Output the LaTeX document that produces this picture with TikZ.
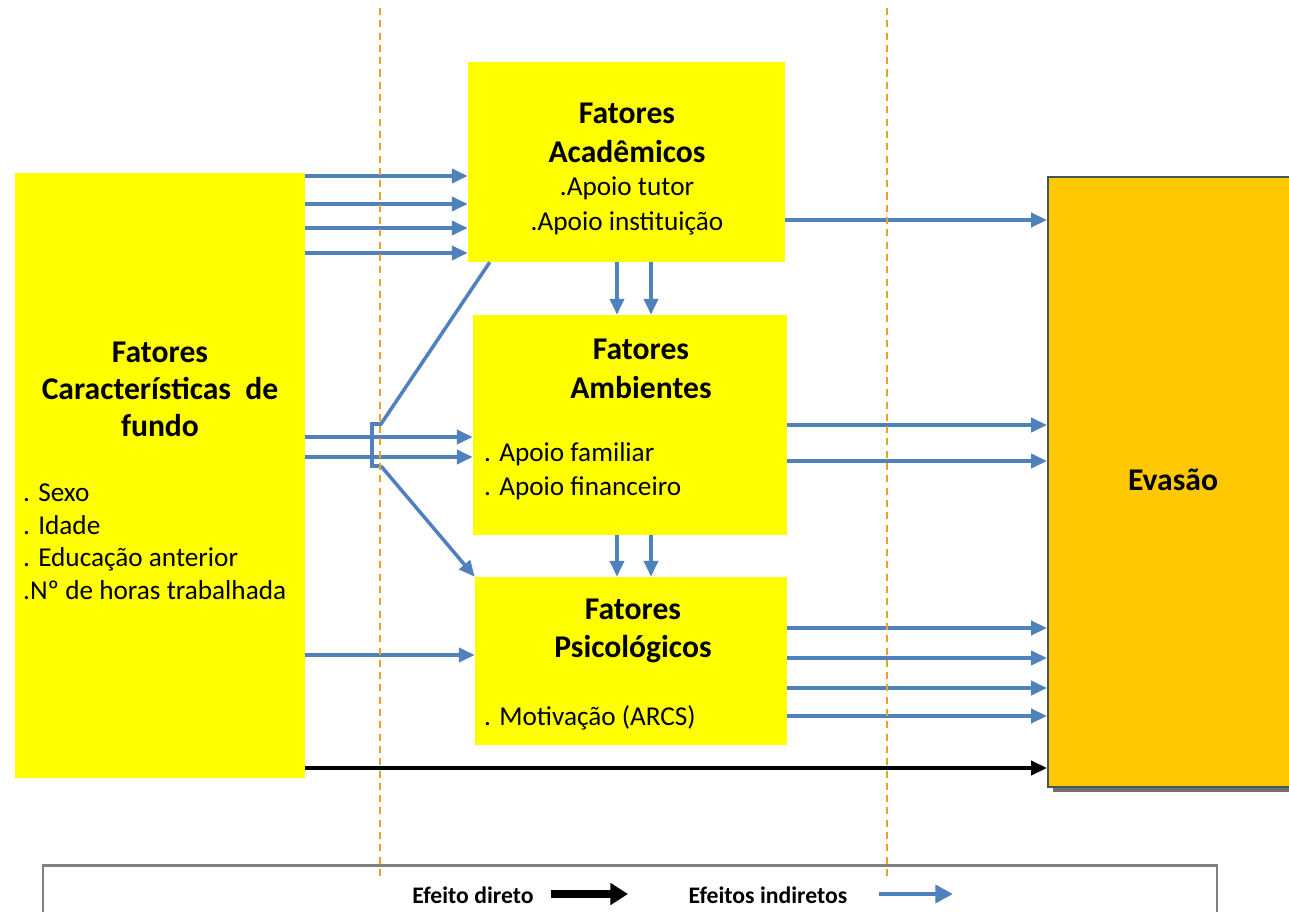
\documentclass[tikz,border=0pt]{standalone}
\usepackage{fontspec}
\setmainfont{Carlito}
\usetikzlibrary{arrows.meta, shadows}
\definecolor{boxyellow}{RGB}{255,255,0}
\definecolor{evayellow}{RGB}{255,200,0}
\definecolor{evaborder}{RGB}{70,85,85}
\definecolor{arrowblue}{RGB}{79,129,189}
\definecolor{guideorange}{RGB}{240,160,40}
\tikzset{
	box/.style={fill=boxyellow, inner sep=0pt}, % the yellow factor boxes
	ind/.style={draw=arrowblue, line width=2pt, -{Triangle[length=9pt,width=8pt]}}, % indirect effects
	dir/.style={draw=black, line width=2pt, -{Triangle[length=9pt,width=8pt]}}, % direct effect
	title/.style={font=\bfseries\fontsize{18}{22}\selectfont, align=center},
	item/.style={font=\fontsize{15.5}{19.5}\selectfont, align=left},
	legtext/.style={font=\bfseries\fontsize{13.5}{16}\selectfont},
	guide/.style={draw=guideorange, line width=0.7pt, dash pattern=on 4pt off 3pt},
}
\begin{document}
\begin{tikzpicture}[x=0.02cm, y=-0.02cm]
	\useasboundingbox[fill=white] (0,0) rectangle (1289,912);
	% boxes
	\node[box, minimum width=5.8cm, minimum height=12.1cm] (lft) at (160,475.5) {};
	\node[box, minimum width=6.34cm, minimum height=4cm] (acad) at (626.5,162) {};
	\node[box, minimum width=6.28cm, minimum height=4.4cm] (amb) at (630,425) {};
	\node[box, minimum width=6.24cm, minimum height=3.36cm] (psi) at (631,661) {};
	\node[fill=evayellow, draw=evaborder, line width=1.2pt, minimum width=5.04cm, minimum height=12.2cm,
		drop shadow={shadow xshift=3pt, shadow yshift=-3pt, opacity=0.7, fill=black!80}] (eva) at (1174,482) {};
	% texts
	\node[title, font=\bfseries\fontsize{18}{21}\selectfont] (lfttitle) at (160,389) {Fatores\\Características~ de\\fundo};
	\node[item, anchor=west, font=\fontsize{15.5}{18.5}\selectfont] (lftlist) at (17,542) {. Sexo\\. Idade\\. Educação anterior\\.Nº de horas trabalhada};
	\node[title] (acadtitle) at (627,133) {Fatores\\Acadêmicos};
	\node[item, align=center] (acadlist) at (627,206) {.Apoio tutor\\.Apoio instituição};
	\node[title] (ambtitle) at (641,369) {Fatores\\Ambientes};
	\node[item, anchor=west] (amblist) at (478,471) {. Apoio familiar\\. Apoio financeiro};
	\node[title] (psititle) at (633,631) {Fatores\\Psicológicos};
	\node[item, anchor=west] (psilist) at (478,718) {. Motivação (ARCS)};
	\node[font=\bfseries\fontsize{18}{22}\selectfont] (evatitle) at (1173,480) {Evasão};
	% indirect effects
	\foreach \y in {176,204,228,253}
		\draw[ind] (lft.east |- 0,\y) -- (acad.west |- 0,\y);
	\foreach \y in {437,457}
		\draw[ind] (lft.east |- 0,\y) -- (amb.west |- 0,\y);
	\draw[ind] (lft.east |- 0,655) -- (psi.west |- 0,655);
	\foreach \x in {617,651} {
		\draw[ind] (acad.south -| \x,0) -- (amb.north -| \x,0);
		\draw[ind] (amb.south -| \x,0) -- (psi.north -| \x,0);
	}
	\draw[ind] (acad.east |- 0,220) -- (eva.west |- 0,220);
	\foreach \y in {425,461}
		\draw[ind] (amb.east |- 0,\y) -- (eva.west |- 0,\y);
	\foreach \y in {628,658,688,716}
		\draw[ind] (psi.east |- 0,\y) -- (eva.west |- 0,\y);
	% bracket feeding the academic and psychological boxes
	\draw[ind, -] ([xshift=0.44cm]acad.south west) -- (381,424) -- (372,424) -- (372,466) -- (381,466);
	\draw[ind] (381,466) -- (psi.north west);
	% direct effect
	\draw[dir] (lft.east |- 0,768) -- (eva.west |- 0,768);
	% legend
	\node[draw=black!50, line width=1.2pt, fill=white, minimum width=23.48cm, minimum height=1.1cm] (legend) at (630,893) {};
	\node[legtext] (dirtext) at (473,895) {Efeito direto};
	\node[legtext] (indtext) at (768,895) {Efeitos indiretos};
	\coordinate (dira) at (551,894);
	\coordinate (dirb) at (628,894);
	\coordinate (inda) at (879,894);
	\coordinate (indb) at (953,894);
	\draw[draw=black, line width=4pt, -{Triangle[length=10pt,width=12pt]}] (dira) -- (dirb);
	\draw[draw=arrowblue, line width=2.8pt, -{Triangle[length=10pt,width=10pt]}] (inda) -- (indb);
	% guide lines
	\coordinate (g1top) at (380,8);
	\coordinate (g1bot) at (380,880);
	\coordinate (g2top) at (887,8);
	\coordinate (g2bot) at (887,880);
	\draw[guide] (g1top) -- (g1bot);
	\draw[guide] (g2top) -- (g2bot);
\end{tikzpicture}
\end{document}
